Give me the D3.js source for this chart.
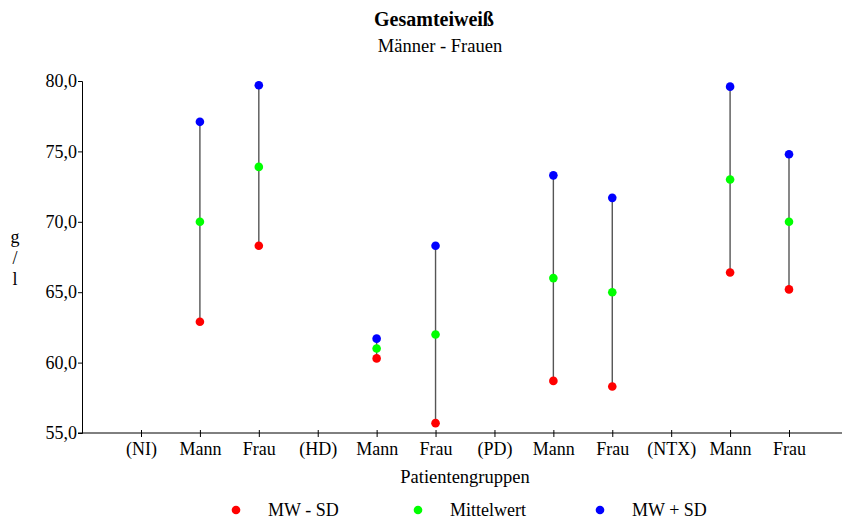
<!DOCTYPE html>
<html>
<head>
<meta charset="utf-8">
<script src="https://cdn.jsdelivr.net/npm/d3@7"></script>
<style>
  body { margin: 0; background: #fff; }
  svg text { font-family: "Liberation Serif", "Times New Roman", Times, serif !important; fill: #000; }
</style>
</head>
<body>
<svg id="chart" width="842" height="519"></svg>
<script>
// Kategorien der x-Achse
const categories = ["(NI)", "Mann", "Frau", "(HD)", "Mann", "Frau", "(PD)", "Mann", "Frau", "(NTX)", "Mann", "Frau"];
// Werte je Kategorie (null = Gruppenüberschrift ohne Daten)
const mwMinusSd = [null, 62.9, 68.3, null, 60.3, 55.7, null, 58.7, 58.3, null, 66.4, 65.2];
const mittelwert = [null, 70.0, 73.9, null, 61.0, 62.0, null, 66.0, 65.0, null, 73.0, 70.0];
const mwPlusSd = [null, 77.1, 79.7, null, 61.7, 68.3, null, 73.3, 71.7, null, 79.6, 74.8];
const yTicks = [55, 60, 65, 70, 75, 80];

const legendItems = [
  { label: "MW - SD", color: "#ff0000" },
  { label: "Mittelwert", color: "#00ff00" },
  { label: "MW + SD", color: "#0000ff" }
];

const svg = d3.select("#chart");
const plotLeft = 82, plotRight = 842, plotTop = 81, plotBottom = 433;

const x = d3.scalePoint().domain(d3.range(categories.length)).range([141, 789]);
const y = d3.scaleLinear().domain([55, 80]).range([plotBottom, plotTop]);

//Titel
svg.append("text").attr("x", 434).attr("y", 26).attr("text-anchor", "middle")
  .attr("font-size", "20px").attr("font-weight", "bold").text("Gesamteiweiß");
svg.append("text").attr("x", 440).attr("y", 52).attr("text-anchor", "middle")
  .attr("font-size", "18.5px").text("Männer - Frauen");

//y-Achse
const yAxis = svg.append("g").attr("transform", `translate(${plotLeft},0)`)
  .call(d3.axisLeft(y).tickValues(yTicks).tickSize(4).tickPadding(1)
    .tickFormat(d => d3.format(".1f")(d).replace(".", ",")));
yAxis.select(".domain").attr("stroke", "#000");
yAxis.selectAll("text").attr("font-size", "18px");

["g", "/", "l"].forEach((t, i) => {
  svg.append("text").attr("x", 15).attr("y", 243 + i * 21).attr("text-anchor", "middle")
    .attr("font-size", "18px").text(t);
});

//x-Achse
const xAxis = svg.append("g").attr("transform", `translate(0,${plotBottom})`)
  .call(d3.axisBottom(x).tickSize(4).tickSizeOuter(0).tickPadding(5)
    .tickFormat(i => categories[i]));
xAxis.select(".domain").attr("d", `M${plotLeft - 4},0H${plotRight}`).attr("stroke", "#000");
xAxis.selectAll(".tick line").attr("y1", -3);
xAxis.selectAll("text").attr("font-size", "18px");

svg.append("text").attr("x", 465).attr("y", 483).attr("text-anchor", "middle")
  .attr("font-size", "18.5px").text("Patientengruppen");

//Linien und Punkte
const idx = d3.range(categories.length).filter(i => mittelwert[i] !== null);

svg.append("g").selectAll("line").data(idx).join("line")
  .attr("x1", i => x(i)).attr("x2", i => x(i))
  .attr("y1", i => y(mwMinusSd[i])).attr("y2", i => y(mwPlusSd[i]))
  .attr("stroke", "#555").attr("stroke-width", 1.4);

[[mwMinusSd, "#ff0000"], [mittelwert, "#00ff00"], [mwPlusSd, "#0000ff"]].forEach(([vals, c]) => {
  svg.append("g").selectAll("circle").data(idx).join("circle")
    .attr("cx", i => x(i)).attr("cy", i => y(vals[i])).attr("r", 4.3).attr("fill", c);
});

//Legende
const lx = [236, 418, 600];
legendItems.forEach((d, i) => {
  svg.append("circle").attr("cx", lx[i]).attr("cy", 510).attr("r", 4.3).attr("fill", d.color);
  svg.append("text").attr("x", lx[i] + 32).attr("y", 516).attr("font-size", "18px").text(d.label);
});
</script>
</body>
</html>
